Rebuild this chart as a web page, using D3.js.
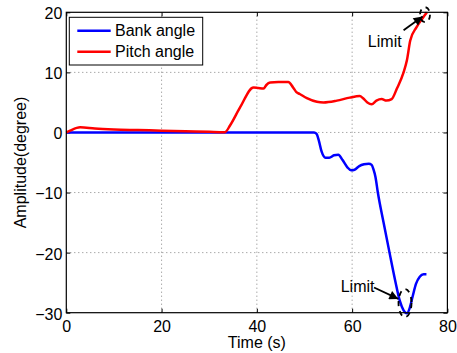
<!DOCTYPE html>
<html>
<head>
<meta charset="utf-8">
<script src="https://cdn.jsdelivr.net/npm/d3@7"></script>
<style>
  html, body { margin: 0; padding: 0; background: #fff; }
  svg { display: block; font-family: "Liberation Sans", Arial, Helvetica, sans-serif; }
</style>
</head>
<body>
<svg id="chart" width="457" height="353"></svg>
<script>
// Attitude response: bank and pitch angle versus time
const xTicks = [0, 20, 40, 60, 80];
const yTicks = [-30, -20, -10, 0, 10, 20];
const seriesNames = ["Bank angle", "Pitch angle"];
const seriesColors = ["#0000ff", "#ff0000"];

const bankTime  = [0, 30, 52.0, 52.5, 53.0, 53.6, 54.4, 55.2, 56.2, 57.1, 58.0, 59.0, 59.8, 60.5, 61.5, 62.5, 63.5, 64.1, 64.5, 64.9, 65.4, 66.6, 67.85, 69.0, 70.0, 70.8, 71.5, 72.1, 72.7, 73.4, 74.2, 75.0, 75.6];
const bankValue = [0, 0, 0, -0.2, -1.3, -3.2, -4.2, -4.2, -3.8, -3.7, -4.6, -5.8, -6.3, -6.2, -5.6, -5.3, -5.2, -5.4, -6.2, -7.4, -10, -15, -20, -24.5, -28, -29.6, -30.1, -29.2, -27.3, -25.2, -24.0, -23.6, -23.6];

const pitchTime  = [0, 0.8, 2.9, 6, 10, 15, 20, 25, 30, 33.3, 34.4, 36.5, 39.3, 40.3, 41.4, 42.0, 42.8, 44.5, 46.6, 47.6, 48.3, 49.0, 50.5, 52.6, 54.0, 56.8, 59.5, 61.6, 62.3, 63.2, 64.1, 65.1, 66.2, 67.2, 68.3, 69.4, 70.8, 71.5, 72.2, 73.5, 74.6, 75.7];
const pitchValue = [0, 0.3, 0.85, 0.65, 0.5, 0.4, 0.3, 0.2, 0.1, 0.05, 1.2, 4.2, 7.5, 7.4, 7.3, 7.9, 8.3, 8.4, 8.4, 7.5, 6.7, 6.4, 5.7, 5.1, 5.0, 5.3, 5.8, 6.05, 5.7, 5.0, 4.7, 5.3, 5.55, 5.3, 5.55, 7.3, 10.0, 12.0, 15.3, 17.5, 18.8, 20.0];

// "Limit" callouts: ellipse centre, label and arrow ends in data units
const limitNotes = [
  { at: [75.3, 19.6], text: [63.3, 14.3], rx: 5, ry: 7.5, tail: [70.8, 17.0], head: [74.8, 19.3] },
  { at: [71.1, -28.4], text: [57.6, -26.6], rx: 6.5, ry: 14, tail: [64.6, -25.8], head: [69.7, -27.7] }
];

const svg = d3.select("#chart");
const margin = { left: 66.3, right: 457 - 447.4, top: 12.3, bottom: 353 - 312.7 };
const W = 457 - margin.left - margin.right;
const H = 353 - margin.top - margin.bottom;

const x = d3.scaleLinear().domain([0, 80]).range([margin.left, margin.left + W]);
const y = d3.scaleLinear().domain([-30, 20]).range([margin.top + H, margin.top]);

const g = svg.append("g");

// dotted grid
g.append("g").selectAll("line").data(xTicks.filter(d => d > 0 && d < 80)).join("line")
  .attr("x1", d => x(d)).attr("x2", d => x(d))
  .attr("y1", y(-30)).attr("y2", y(20))
  .attr("stroke", "#666").attr("stroke-width", 0.8).attr("stroke-dasharray", "1,3");
g.append("g").selectAll("line").data(yTicks.filter(d => d > -30 && d < 20)).join("line")
  .attr("y1", d => y(d)).attr("y2", d => y(d))
  .attr("x1", x(0)).attr("x2", x(80))
  .attr("stroke", "#666").attr("stroke-width", 0.8).attr("stroke-dasharray", "1,3");

// axes with inward ticks on all four sides
const fmt = d => d < 0 ? "\u2212" + Math.abs(d) : String(d);
const axB = d3.axisBottom(x).tickValues(xTicks).tickSize(-4).tickPadding(8).tickFormat(fmt);
const axT = d3.axisTop(x).tickValues(xTicks).tickSize(-4).tickFormat("");
const axL = d3.axisLeft(y).tickValues(yTicks).tickSize(-4).tickPadding(4).tickFormat(fmt);
const axR = d3.axisRight(y).tickValues(yTicks).tickSize(-4).tickFormat("");

function styleAxis(sel) {
  sel.select(".domain").remove();
  sel.selectAll(".tick line").attr("stroke", "#000").attr("stroke-width", 1);
  sel.selectAll(".tick text").attr("fill", "#000").attr("font-size", 16)
    .attr("font-family", "'Liberation Sans', Arial, Helvetica, sans-serif");
}
g.append("g").attr("transform", `translate(0,${y(-30)})`).call(axB).call(styleAxis)
  .selectAll(".tick text").attr("dy", "0.71em");
g.append("g").attr("transform", `translate(0,${y(20)})`).call(axT).call(styleAxis);
g.append("g").attr("transform", `translate(${x(0)},0)`).call(axL).call(styleAxis)
  .selectAll(".tick text").attr("dy", "0.4em");
g.append("g").attr("transform", `translate(${x(80)},0)`).call(axR).call(styleAxis);

// series
const line = d3.line().x(d => x(d[0])).y(d => y(d[1])).curve(d3.curveMonotoneX);
const bank = bankTime.map((t, i) => [t, bankValue[i]]);
const pitch = pitchTime.map((t, i) => [t, pitchValue[i]]);

g.append("path").datum(bank).attr("d", line)
  .attr("fill", "none").attr("stroke", seriesColors[0]).attr("stroke-width", 2.5)
  .attr("stroke-linejoin", "round");
g.append("path").datum(pitch).attr("d", line)
  .attr("fill", "none").attr("stroke", seriesColors[1]).attr("stroke-width", 2.5)
  .attr("stroke-linejoin", "round");

// callouts
const defs = svg.append("defs");
defs.append("marker").attr("id", "head").attr("viewBox", "0 0 10 10")
  .attr("refX", 10).attr("refY", 5).attr("markerWidth", 10).attr("markerHeight", 9)
  .attr("markerUnits", "userSpaceOnUse").attr("orient", "auto")
  .append("path").attr("d", "M0,0 L10,5 L0,10 Z").attr("fill", "#000");

limitNotes.forEach(n => {
  g.append("ellipse")
    .attr("cx", x(n.at[0])).attr("cy", y(n.at[1]))
    .attr("rx", n.rx).attr("ry", n.ry)
    .attr("fill", "none").attr("stroke", "#000").attr("stroke-width", 1.8)
    .attr("stroke-dasharray", "5,5");
  g.append("line")
    .attr("x1", x(n.tail[0])).attr("y1", y(n.tail[1]))
    .attr("x2", x(n.head[0])).attr("y2", y(n.head[1]))
    .attr("stroke", "#000").attr("stroke-width", 1.8)
    .attr("marker-end", "url(#head)");
  g.append("text")
    .attr("x", x(n.text[0])).attr("y", y(n.text[1]))
    .attr("font-size", 16).attr("fill", "#000")
    .text("Limit");
});

// plot box
g.append("rect")
  .attr("x", x(0)).attr("y", y(20)).attr("width", W).attr("height", H)
  .attr("fill", "none").attr("stroke", "#000").attr("stroke-width", 1.2);

// legend
const lg = g.append("g");
lg.append("rect").attr("x", 69.3).attr("y", 17.3).attr("width", 133.4).attr("height", 47.7)
  .attr("fill", "#fff").attr("stroke", "#000").attr("stroke-width", 1);
seriesNames.forEach((name, i) => {
  const yy = 30.7 + i * 21;
  lg.append("line").attr("x1", 77.3).attr("x2", 110.7).attr("y1", yy).attr("y2", yy)
    .attr("stroke", seriesColors[i]).attr("stroke-width", 2.5);
  lg.append("text").attr("x", 115).attr("y", yy + 5.6)
    .attr("font-size", 16).attr("fill", "#000").text(name);
});

// axis titles
g.append("text").attr("x", x(40)).attr("y", 348)
  .attr("text-anchor", "middle").attr("font-size", 16).attr("fill", "#000")
  .text("Time (s)");
g.append("text")
  .attr("transform", `translate(26,${y(-5)}) rotate(-90)`)
  .attr("text-anchor", "middle").attr("font-size", 16).attr("fill", "#000")
  .text("Amplitude(degree)");
</script>
</body>
</html>
